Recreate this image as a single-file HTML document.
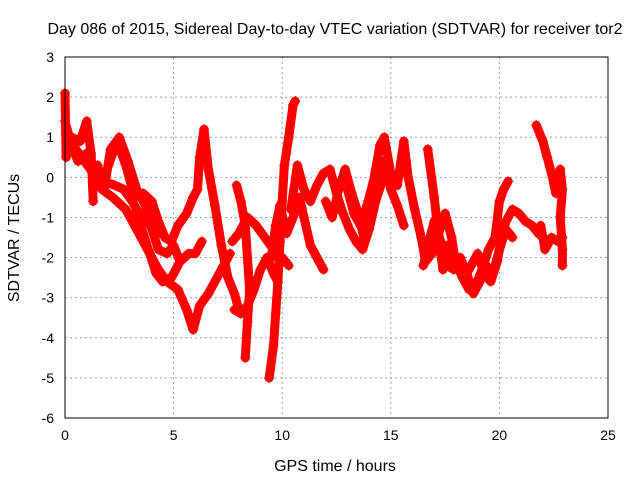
<!DOCTYPE html>
<html><head><meta charset="utf-8"><style>
body{margin:0;background:#fff}
svg text{font-family:"Liberation Sans",Arial,sans-serif;fill:#000}
</style></head><body>
<svg id="chart" width="640" height="480" xmlns="http://www.w3.org/2000/svg">
<text x="335" y="34" font-size="16" text-anchor="middle">Day 086 of 2015, Sidereal Day-to-day VTEC variation (SDTVAR) for receiver tor2</text>
<text x="335" y="471" font-size="16" text-anchor="middle">GPS time / hours</text>
<text x="19" y="238" font-size="16" text-anchor="middle" transform="rotate(-90 19 238)">SDTVAR / TECUs</text>
<g id="grid"></g><g id="ticks"></g><g id="series"></g>
<rect x="65" y="57" width="543" height="361" fill="none" stroke="#000" stroke-width="1"/>
</svg>
<script>
const xTicks=[0,5,10,15,20,25];
const yTicks=[3,2,1,0,-1,-2,-3,-4,-5,-6];
const trackA=[[0,1.4],[0.2,1.0],[0.5,0.7],[0.9,0.4],[1.3,0.1],[1.7,-0.3],[2.2,-0.5],[2.8,-0.8],[3.3,-1.3],[3.8,-1.8],[4.3,-2.3],[4.7,-2.6],[5.2,-2.8],[5.6,-3.3],[5.9,-3.8],[6.2,-3.2],[6.6,-2.9],[7.0,-2.5],[7.4,-2.1],[7.6,-1.9]];
const trackB=[[0,2.1],[0.05,0.5],[0.3,1.0],[0.7,0.9],[1.0,1.4],[1.2,0.6],[1.3,-0.6]];
const trackC=[[1.5,0.3],[1.8,-0.3],[2.1,0.7],[2.5,1.0],[2.9,0.4],[3.3,-0.3],[3.7,-0.7],[4.0,-1.3],[4.3,-1.8],[4.7,-1.9],[5.0,-1.7],[5.3,-2.1],[5.7,-1.9],[6.0,-1.9],[6.3,-1.6]];
const trackD=[[2.0,0.3],[2.4,0.9],[2.8,0.3],[3.2,-0.5],[3.6,-0.4],[4.0,-0.6],[4.3,-1.1],[4.6,-1.5],[4.9,-1.6],[5.2,-1.2],[5.6,-0.9],[5.9,-0.5],[6.1,-0.3],[6.2,0.5],[6.4,1.2],[6.6,0.2],[6.9,-0.7],[7.2,-1.7],[7.5,-2.5],[7.8,-2.9],[8.0,-3.3]];
const trackE=[[3.2,-0.9],[3.6,-1.4],[3.9,-1.9],[4.2,-2.4],[4.5,-2.6],[4.9,-2.5],[5.2,-2.2]];
const trackF=[[7.8,-3.3],[8.1,-3.4],[8.4,-3.2],[8.7,-2.8],[9.0,-2.3],[9.3,-2.0],[9.6,-2.4],[9.8,-2.6]];
const trackG=[[7.7,-1.6],[8.0,-1.4],[8.4,-1.0],[8.8,-1.2],[9.2,-1.5],[9.6,-1.8],[10.0,-2.0],[10.3,-2.2]];
const trackH=[[7.9,-0.2],[8.1,-0.6],[8.3,-1.2],[8.4,-2.0],[8.5,-2.8],[8.4,-3.6],[8.3,-4.5]];
const trackI=[[9.4,-5.0],[9.6,-4.2],[9.7,-3.4],[9.8,-2.6],[9.9,-1.6],[10.0,-0.6],[10.1,0.3],[10.3,1.0],[10.5,1.8],[10.6,1.9]];
const trackJ=[[9.5,-2.0],[9.7,-1.2],[9.9,-0.7],[10.2,-1.4],[10.5,-1.0],[10.8,-0.5],[11.0,-1.0],[11.3,-1.7],[11.6,-2.0],[11.9,-2.3]];
const trackK=[[10.4,-0.8],[10.7,0.3],[11.0,-0.3],[11.3,-0.6],[11.6,-0.2],[11.9,0.1],[12.2,0.2],[12.5,-0.4],[12.8,-0.9],[13.1,-1.3],[13.4,-1.6],[13.7,-1.8],[14.0,-1.3],[14.3,-0.6],[14.6,-0.1],[14.9,0.3],[15.1,-0.2]];
const trackL=[[13.0,-0.3],[13.3,-0.9],[13.6,-1.2],[13.9,-0.7],[14.2,-0.1],[14.5,0.8],[14.7,1.0],[15.0,0.1],[15.3,-0.2],[15.6,0.9],[15.8,0.0],[16.1,-0.8],[16.4,-1.5],[16.6,-2.1],[16.9,-1.9],[17.2,-1.4],[17.5,-0.9],[17.8,-1.5],[18.0,-2.2],[18.3,-2.3]];
const trackM=[[16.7,0.7],[17.0,-0.5],[17.2,-1.5],[17.4,-2.3],[17.6,-1.7],[17.9,-2.0],[18.3,-2.5],[18.6,-2.8],[18.9,-2.7],[19.2,-2.3],[19.5,-1.8],[19.8,-1.5],[20.0,-0.6],[20.2,-0.3],[20.4,-0.1]];
const trackN=[[18.6,-2.3],[19.0,-1.9],[19.3,-2.4],[19.6,-2.6],[19.9,-2.1],[20.1,-1.5],[20.3,-1.1],[20.6,-0.8],[20.9,-0.9],[21.2,-1.1],[21.5,-1.2],[21.8,-1.4],[22.0,-1.5]];
const trackO=[[21.7,1.3],[22.0,0.9],[22.2,0.5],[22.4,0.1],[22.6,-0.4],[22.8,0.2],[22.9,-0.3],[22.8,-1.0],[22.9,-1.8],[22.9,-2.2]];
const trackP=[[21.9,-1.2],[22.1,-1.8],[22.4,-1.5],[22.7,-1.6],[22.9,-1.5]];
const trackQ=[[0.3,0.8],[0.6,0.4],[1.0,0.6],[1.4,0.2],[1.8,-0.1],[2.3,-0.2],[2.7,-0.3],[3.1,-0.6],[3.5,-1.0],[3.9,-1.2],[4.3,-1.4]];
const trackR=[[12.0,-0.6],[12.3,-1.0],[12.6,-0.3],[12.9,0.2],[13.2,-0.4],[13.5,-0.9],[13.8,-1.6],[14.1,-1.0],[14.4,-0.3],[14.7,0.4],[15.0,-0.3],[15.3,-0.7],[15.6,-1.2]];
const trackS=[[16.5,-2.2],[16.8,-1.5],[17.0,-1.1],[17.3,-1.6],[17.6,-2.2],[17.9,-2.3],[18.2,-2.0],[18.5,-2.4],[18.8,-2.9],[19.1,-2.6],[19.4,-2.2],[19.7,-2.4],[20.0,-1.8],[20.3,-1.3],[20.6,-1.5]];
const tracks=[trackA,trackB,trackC,trackD,trackE,trackF,trackG,trackH,trackI,trackJ,trackK,trackL,trackM,trackN,trackO,trackP,trackQ,trackR,trackS];

const X0=65,X1=608,Y0=418,Y1=57;
const xs=t=>X0+(t-0)/(25-0)*(X1-X0);
const ys=v=>Y0-(v-(-6))/(3-(-6))*(Y0-Y1);
const NS='http://www.w3.org/2000/svg';
const mk=(tag,attrs,parent)=>{const e=document.createElementNS(NS,tag);for(const k in attrs)e.setAttribute(k,attrs[k]);parent.appendChild(e);return e;};
const grid=document.getElementById('grid'),ticks=document.getElementById('ticks'),series=document.getElementById('series');
xTicks.forEach(t=>{
  const x=xs(t);
  if(t>0&&t<25){const g=mk('line',{x1:x,x2:x,y1:Y1,y2:Y0,stroke:'#a0a0a0','stroke-dasharray':'2,3'},grid);
  
  }
  const l=mk('text',{x:x,y:Y0+22,'font-size':14,'text-anchor':'middle'},ticks);l.textContent=t;
  
  
});
yTicks.forEach(v=>{
  const y=ys(v);
  if(v<3&&v>-6){const g=mk('line',{x1:X0,x2:X1,y1:y,y2:y,stroke:'#a0a0a0','stroke-dasharray':'2,3'},grid);
  
  }
  const l=mk('text',{x:X0-11,y:y+5,'font-size':14,'text-anchor':'end'},ticks);l.textContent=v;
  
  
});
tracks.forEach(tr=>{
  const p=mk('polyline',{points:tr.map(d=>xs(d[0])+','+ys(d[1])).join(' '),fill:'none',stroke:'#ff0000','stroke-width':9,'stroke-linejoin':'round','stroke-linecap':'round'},series);
  
  
  tr.forEach(d=>{
    const x=xs(d[0]),y=ys(d[1]);
    const m=mk('path',{d:`M${x-5},${y}H${x+5}M${x},${y-5}V${y+5}`,stroke:'#ff0000','stroke-width':1.2},series);
    
    
  });
});
</script>
</body></html>
